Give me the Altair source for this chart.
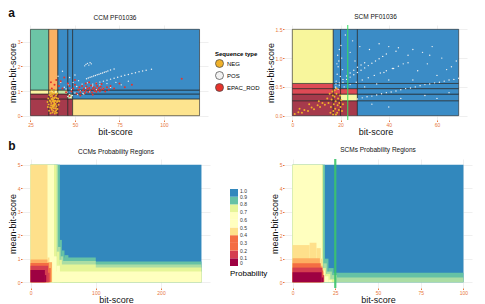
import altair as alt
import pandas as pd

FONT = "Liberation Sans"
TICK_ORANGE = "#e8783c"
GRID = "#e4e4e4"

BLUE = "#3b8cc6"
DARK_RED = "#a63a4c"
SPECTRAL = ["#9e0142", "#d53e4f", "#f46d43", "#fdae61", "#fee08b",
            "#ffffbf", "#e6f598", "#abdda4", "#66c2a5", "#3288bd"]
PROB_LABELS = [0, 0.1, 0.2, 0.3, 0.4, 0.5, 0.6, 0.7, 0.8, 0.9, 1.0]

# ---------------- a: CCM PF01036 tiles ----------------
ccm_x_breaks = [25, 35.3, 40.4, 46, 48.7, 120]
ccm_y_breaks = [0, 0.68, 0.88, 1.04, 3.5]
ccm_tile_colors = [  # rows bottom -> top, columns left -> right
    [DARK_RED, DARK_RED, DARK_RED, DARK_RED, "#fde48f"],
    [DARK_RED, DARK_RED, DARK_RED, "#c4e4a2", BLUE],
    ["#fbf4a2", "#fbf4a2", "#c4e4a2", BLUE, BLUE],
    ["#6cc5a6", "#fcb163", BLUE, BLUE, BLUE],
]

# ---------------- a: SCM PF01036 tiles ----------------
scm_x_breaks = [0, 17, 20, 27, 69]
scm_y_breaks = [0, 0.26, 0.375, 0.47, 0.56, 1.5]
scm_tile_colors = [
    [DARK_RED, DARK_RED, DARK_RED, BLUE],
    [DARK_RED, DARK_RED, "#f8f6a6", BLUE],
    ["#de4a55", "#de4a55", "#de4a55", BLUE],
    ["#de4a55", BLUE, BLUE, BLUE],
    ["#f8f69c", BLUE, BLUE, BLUE],
]
scm_cutoff = 23

# ---------------- a: CCM scatter ----------------
ccm_pos_x = [56.5, 57.5, 58.5, 59.5, 60.5, 61.5, 62.5, 63.5, 64.5, 65.5, 66.5, 67.5, 68.5, 70, 72,
             60, 62, 64, 66, 68, 70, 72, 74, 76, 78, 80, 82, 84, 86, 88, 90, 93,
             55.5, 56.2, 57, 57.8, 58.5, 59.2,
             44, 45.5, 46.2, 47, 48, 49, 50, 51, 52, 53, 54, 55, 56, 57, 58, 60, 62, 64, 66, 68,
             70, 73, 76, 80, 42, 40.5, 43, 47, 50, 46, 48.5, 51.5, 54.5, 45, 47.5]
ccm_pos_y = [1.50, 1.53, 1.56, 1.58, 1.61, 1.63, 1.66, 1.68, 1.71, 1.73, 1.76, 1.78, 1.81, 1.85, 1.89,
             1.28, 1.32, 1.36, 1.40, 1.44, 1.48, 1.52, 1.56, 1.60, 1.64, 1.67, 1.71, 1.74, 1.78, 1.81, 1.84, 1.88,
             2.02, 2.08, 2.12, 2.05, 2.15, 2.10,
             1.15, 0.95, 1.25, 0.85, 1.05, 1.35, 0.92, 1.18, 1.42, 1.00, 1.28, 0.88, 1.12, 1.33, 0.97, 1.20, 1.05, 1.25, 1.10, 1.30,
             1.15, 1.35, 1.25, 1.40, 1.35, 1.60, 1.80, 1.55, 1.65, 0.78, 0.82, 0.86, 0.9, 1.08, 0.75]
ccm_epac_x = [42, 43, 44, 45, 46, 47, 48, 49, 50, 51, 52, 52.5, 53, 54, 54.5, 55, 55.5, 56, 56.5, 57,
              57.5, 58, 58.5, 59, 59.5, 60, 60.5, 61, 61.5, 62, 62.5, 63, 63.5, 64, 64.5, 65, 66, 67,
              68, 69, 70, 72, 75, 78, 82, 110, 50, 47, 53, 60, 56, 58, 62, 65,
              37, 38.5, 39.5, 41, 36.5]
ccm_epac_y = [1.40, 1.10, 1.55, 0.95, 1.30, 1.20, 0.98, 1.10, 1.25, 0.90, 1.05, 1.15, 0.95, 1.20, 1.02, 1.10, 0.92, 1.00, 1.18, 1.08,
              0.96, 1.12, 1.03, 1.22, 0.94, 1.08, 1.15, 1.00, 1.10, 0.97, 1.20, 1.05, 1.12, 0.99, 1.17, 1.06, 1.10, 0.98,
              1.15, 1.05, 1.20, 1.10, 1.30, 1.15, 1.25, 1.50, 1.45, 0.80, 0.82, 0.85, 1.30, 1.35, 1.30, 1.28,
              1.10, 1.25, 1.45, 1.20, 1.35]
ccm_neg_x = [35.2, 35.8, 36.1, 36.4, 36.7, 37.0, 37.2, 37.5, 37.7, 37.9, 38.2, 38.4, 38.6, 38.9, 39.1, 39.4,
             39.6, 39.9, 40.2, 40.5, 36.0, 36.9, 38.1, 39.3, 35.5, 36.3, 37.4, 38.7, 39.8, 40.8, 41.2,
             35.0, 34.6, 34.8, 37.1, 37.6, 38.0, 38.3, 36.6, 36.2, 37.3, 38.5, 39.0, 39.2, 37.8, 36.8,
             38.8, 40.0, 37.0, 38.4, 36.5, 35.6, 39.7, 40.4, 37.9, 37.4, 38.6, 36.9, 39.5, 38.1]
ccm_neg_y = [0.45, 0.62, 0.33, 0.78, 0.51, 0.24, 0.66, 0.40, 0.88, 0.57, 0.30, 0.72, 0.48, 0.16, 0.61, 0.83,
             0.38, 0.55, 0.27, 0.69, 0.95, 1.02, 0.98, 1.05, 0.20, 0.10, 0.13, 0.09, 0.12, 0.44, 0.58,
             0.70, 0.55, 0.35, 0.80, 0.72, 0.64, 0.52, 0.42, 0.58, 0.35, 0.42, 0.47, 0.30, 0.20, 0.68,
             0.75, 0.90, 0.92, 0.90, 0.86, 0.84, 0.72, 0.60, 0.44, 0.58, 0.60, 0.30, 0.22, 0.37]

# ---------------- a: SCM scatter ----------------
scm_pos_x = [18, 19.5, 21, 22.5, 24, 25.5, 27, 28.5, 30, 31.5, 33, 34.5, 36, 37.5, 39,
             18, 19.5, 21, 22.5, 24, 25.5, 27, 28.5, 30,
             19, 21.5, 24, 26.5, 29, 31.5, 34, 36.5, 39, 41.5, 44,
             27, 29, 31, 33, 35, 37, 39, 41, 43, 45, 47, 49, 51, 53, 55, 57, 59, 61, 63, 65, 67, 69,
             18.2, 18.6, 19.0, 19.3, 18.8, 19.5, 20.2, 18.5, 20.8, 19.9, 18.1, 20.5,
             25, 28, 32, 36, 40, 44, 48, 50, 54, 58, 62, 38, 42, 46, 52, 56, 60, 64, 35, 40,
             50, 30, 45, 55, 60, 65, 33, 40, 22, 26, 24, 66, 68, 57, 48, 43]
scm_pos_y = [0.48, 0.53, 0.58, 0.63, 0.67, 0.71, 0.75, 0.79, 0.83, 0.87, 0.91, 0.95, 0.99, 1.03, 1.07,
             0.50, 0.57, 0.63, 0.69, 0.74, 0.79, 0.84, 0.88, 0.92,
             0.46, 0.50, 0.54, 0.58, 0.62, 0.66, 0.70, 0.74, 0.78, 0.82, 0.86,
             0.29, 0.31, 0.33, 0.34, 0.36, 0.38, 0.40, 0.41, 0.43, 0.45, 0.47, 0.48, 0.50, 0.52, 0.54, 0.55, 0.57, 0.58, 0.60, 0.62, 0.63, 0.65,
             0.60, 0.72, 0.85, 0.95, 1.05, 1.15, 1.22, 0.90, 0.80, 0.68, 0.55, 1.00,
             1.30, 1.20, 1.15, 1.25, 1.20, 1.18, 1.05, 1.15, 1.10, 1.20, 1.00, 0.75, 0.82, 0.90, 0.78, 0.90, 0.70, 0.80, 0.55, 0.62,
             0.62, 0.50, 0.30, 0.35, 0.30, 0.40, 0.20, 0.15, 1.40, 0.95, 1.10, 0.85, 0.95, 1.05, 0.92, 1.12]
scm_neg_x = [14.5, 15, 15.5, 16, 16.3, 16.6, 17, 17.2, 17.5, 17.8, 18, 18.3, 18.6, 18.8, 19, 19.3, 19.5,
             19.8, 20, 20.3, 20.6, 21, 16.8, 17.6, 18.4, 15.8, 16.9, 18.1,
             1, 2.5, 4, 5, 6.5, 8, 9, 10.5, 11.5, 12.5, 13.5, 3, 7, 11]
scm_neg_y = [0.30, 0.22, 0.38, 0.15, 0.28, 0.42, 0.08, 0.20, 0.33, 0.12, 0.25, 0.38, 0.05, 0.18, 0.30, 0.10, 0.22,
             0.35, 0.15, 0.27, 0.08, 0.20, 0.35, 0.44, 0.47, 0.05, 0.02, 0.02,
             0.03, 0.06, 0.05, 0.10, 0.08, 0.14, 0.11, 0.18, 0.15, 0.22, 0.19, 0.12, 0.20, 0.25]

# ---------------- b: probability regions (painted from back to front) ----------------
ccm_prob_x0 = [0, 0, 0, 45, 45, 48, 52, 0, 0, 42, 42, 46, 0, 0, 40, 40, 44, 0, 0, 36, 40,
               0, 26, 0, 26, 0, 28, 0, 27, 0, 22]
ccm_prob_x1 = [262, 45, 262, 100, 48, 52, 58, 42, 262, 100, 46, 50, 40, 262, 100, 44, 48, 36, 262, 40, 45,
               26, 29, 26, 33, 28, 31, 27, 29, 22, 24]
ccm_prob_y1 = [5, 5, 0.88, 1.05, 1.8, 1.35, 1.15, 5, 0.75, 0.9, 1.5, 1.1, 5, 0.62, 0.75, 1.3, 0.95, 5, 0.45, 1.1, 0.7,
               5, 1.05, 0.97, 0.85, 0.82, 0.6, 0.7, 0.4, 0.52, 0.3]
ccm_prob_p = [0.95, 0.85, 0.85, 0.85, 0.85, 0.85, 0.85, 0.75, 0.75, 0.75, 0.75, 0.75, 0.65, 0.65, 0.65, 0.65, 0.65,
              0.55, 0.55, 0.55, 0.55, 0.45, 0.45, 0.35, 0.35, 0.25, 0.25, 0.15, 0.15, 0.05, 0.05]

scm_prob_x0 = [0, 0, 0, 19, 21, 0, 0, 18, 20, 23, 0, 17.7, 19.5, 22, 0, 17.2, 19, 21,
               0, 10, 14, 16.5, 17.5, 0, 16, 0, 16.5, 0, 17.5, 0, 17]
scm_prob_x1 = [100, 100, 19, 21, 24, 100, 18, 20, 23, 26, 17.7, 19.5, 22, 25, 17.2, 19, 21, 23,
               10, 14, 16.5, 17.5, 18.5, 16, 17.5, 16.5, 18, 17.5, 18.5, 17, 18]
scm_prob_y1 = [5, 0.4, 5, 1.0, 0.6, 0.2, 5, 0.8, 0.45, 0.3, 5, 0.6, 0.35, 0.12, 5, 0.5, 0.25, 0.1,
               1.58, 1.68, 1.45, 1.0, 0.45, 1.02, 0.7, 0.8, 0.5, 0.62, 0.3, 0.42, 0.2]
scm_prob_p = [0.95, 0.85, 0.85, 0.85, 0.85, 0.75, 0.75, 0.75, 0.75, 0.75, 0.65, 0.65, 0.65, 0.65,
              0.55, 0.55, 0.55, 0.55, 0.45, 0.45, 0.45, 0.45, 0.45, 0.35, 0.35, 0.25, 0.25, 0.15, 0.15, 0.05, 0.05]
scm_prob_cutoff = 25


def tiles(xb, yb, colors):
    rows = []
    for r, row in enumerate(colors):
        for c, col in enumerate(row):
            rows.append({"x0": xb[c], "x1": xb[c + 1], "y0": yb[r], "y1": yb[r + 1], "fill": col})
    return pd.DataFrame(rows)


def points(series):
    rows = []
    for name, xs, ys in series:
        rows += [{"x": a, "y": b, "type": name} for a, b in zip(xs, ys)]
    return pd.DataFrame(rows)


def axes(xdom, ydom, xvals, yvals, yfmt=None):
    xax = alt.Axis(values=xvals, title="bit-score")
    yargs = dict(values=yvals, title="mean-bit-score")
    if yfmt:
        yargs["format"] = yfmt
    yax = alt.Axis(**yargs)
    xs = alt.Scale(domain=xdom, nice=False, zero=False)
    ys = alt.Scale(domain=ydom, nice=False, zero=False)
    return xax, yax, xs, ys


seq_color = alt.Color(
    "type:N",
    scale=alt.Scale(domain=["NEG", "POS", "EPAC_ROD"], range=["#f0b12a", "#f2f2f2", "#e6332b"]),
    legend=alt.Legend(title="Sequence type", orient="none", legendX=193, legendY=26,
                      symbolSize=64, symbolStrokeColor="#444444", symbolStrokeWidth=0.7,
                      labelFontSize=6, titleFontSize=6, titleFontWeight="bold",
                      rowPadding=1, padding=0, titlePadding=2, labelOffset=3),
)


def scatter_panel(title, xb, yb, colors, pts, xdom, ydom, xvals, yvals, yfmt=None, cutoff=None, w=186, h=95):
    xax, yax, xs, ys = axes(xdom, ydom, xvals, yvals, yfmt)
    base_tiles = alt.Chart(tiles(xb, yb, colors)).mark_rect(stroke="#202020", strokeWidth=0.6).encode(
        x=alt.X("x0:Q", scale=xs, axis=xax), x2="x1:Q",
        y=alt.Y("y0:Q", scale=ys, axis=yax), y2="y1:Q",
        fill=alt.Fill("fill:N", scale=None),
    )
    layers = [base_tiles]
    sizes = {"POS": 2, "EPAC_ROD": 4, "NEG": 4}
    for name in ["POS", "EPAC_ROD", "NEG"]:
        sub = pts[pts["type"] == name]
        if len(sub) == 0:
            continue
        layers.append(alt.Chart(sub).mark_circle(size=sizes[name], opacity=1).encode(
            x=alt.X("x:Q", scale=xs, axis=xax), y=alt.Y("y:Q", scale=ys, axis=yax), color=seq_color))
    if cutoff is not None:
        layers.append(alt.Chart(pd.DataFrame({"x": [cutoff]})).mark_rule(color="#33e060", strokeWidth=1).encode(
            x=alt.X("x:Q", scale=xs, axis=xax)))
    return alt.layer(*layers).properties(width=w, height=h, title=title)


prob_legend = alt.Legend(type="gradient", title="Probability", orient="none", legendX=208, legendY=30,
                         direction="vertical", gradientLength=77, gradientThickness=8,
                         titleOrient="bottom", titleAnchor="start", titleFontSize=8, titleFontWeight="normal",
                         labelFontSize=5, labelColor="#333333", padding=0, titlePadding=4,
                         labelOverlap=False, values=PROB_LABELS,
                         labelExpr="datum.value == 0 ? '0' : format(datum.value, '.1f')")


def prob_panel(title, x0, x1, y1, p, xdom, xvals, cutoff=None, legend=None, w=188, h=129):
    df = pd.DataFrame({"x0": x0, "x1": x1, "y0": [0] * len(x0), "y1": y1, "p": p})
    xax, yax, xs, ys = axes(xdom, [-0.25, 5.25], xvals, [0, 1, 2, 3, 4, 5])
    color = alt.Color("p:Q", bin=alt.Bin(extent=[0, 1], step=0.1), scale=alt.Scale(range=SPECTRAL),
                      legend=legend)
    heat = alt.Chart(df).mark_rect().encode(
        x=alt.X("x0:Q", scale=xs, axis=xax), x2="x1:Q",
        y=alt.Y("y0:Q", scale=ys, axis=yax), y2="y1:Q",
        color=color,
    )
    layers = [heat]
    if cutoff is not None:
        layers.append(alt.Chart(pd.DataFrame({"x": [cutoff]})).mark_rule(
            color="#3cc46c", strokeWidth=2.2, opacity=0.9).encode(x=alt.X("x:Q", scale=xs, axis=xax)))
    return alt.layer(*layers).properties(width=w, height=h, title=title)


ccm_pts = points([("POS", ccm_pos_x, ccm_pos_y), ("EPAC_ROD", ccm_epac_x, ccm_epac_y), ("NEG", ccm_neg_x, ccm_neg_y)])
scm_pts = points([("POS", scm_pos_x, scm_pos_y), ("NEG", scm_neg_x, scm_neg_y)])

a_left = scatter_panel("CCM PF01036", ccm_x_breaks, ccm_y_breaks, ccm_tile_colors, ccm_pts,
                       [20.25, 124.75], [-0.175, 3.675], [25, 50, 75, 100], [0, 1, 2, 3])
a_right = scatter_panel("SCM PF01036", scm_x_breaks, scm_y_breaks, scm_tile_colors, scm_pts,
                        [-3.45, 72.45], [-0.075, 1.575], [0, 20, 40, 60], [0, 0.5, 1.0, 1.5],
                        yfmt=".1f", cutoff=scm_cutoff, w=183)

b_left = prob_panel("CCMs Probability Regions", ccm_prob_x0, ccm_prob_x1, ccm_prob_y1, ccm_prob_p,
                    [-13.1, 275.1], [0, 100, 200], legend=prob_legend)
b_right = prob_panel("SCMs Probability Regions", scm_prob_x0, scm_prob_x1, scm_prob_y1, scm_prob_p,
                     [-5, 105], [0, 25, 50, 75, 100], cutoff=scm_prob_cutoff, legend=None)

row_a = alt.hconcat(a_left, a_right, spacing=58,
                    title=alt.Title("a", anchor="start", fontSize=12, fontWeight="bold", dy=10)).resolve_scale(
    x="independent", y="independent")
row_b = alt.hconcat(b_left, b_right, spacing=2,
                    title=alt.Title("b", anchor="start", fontSize=12, fontWeight="bold", dy=10)).resolve_scale(
    color="independent", x="independent", y="independent")

chart = alt.vconcat(row_a, row_b, spacing=4).properties(
    padding={"left": 8, "top": 7, "right": 2, "bottom": 0}
).configure(font=FONT).configure_view(stroke=None).configure_axis(
    labelColor=TICK_ORANGE, labelFontSize=5, tickColor=TICK_ORANGE, tickSize=1.5, domain=False,
    gridColor=GRID, gridWidth=0.6, titleFontSize=9, titleFontWeight="normal", titleColor="#111111",
    labelPadding=0.5, titlePadding=0,
).configure_title(fontSize=6.5, fontWeight="normal", color="#111111", offset=4)

chart.save("out.html", embed_options={"renderer": "svg", "actions": False})
